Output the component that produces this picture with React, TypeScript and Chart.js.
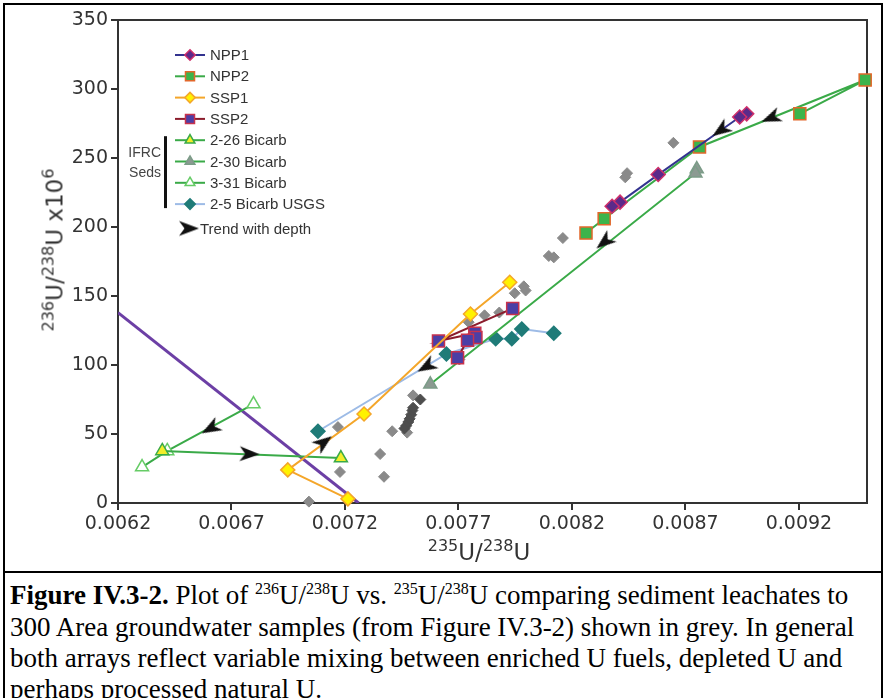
import React, { useEffect, useRef } from 'react';
import { Chart, registerables } from 'chart.js';
import { drawPoint } from 'chart.js/helpers';

Chart.register(...registerables);

// ---- axis ticks ----
const xTicks = [0.0062, 0.0067, 0.0072, 0.0077, 0.0082, 0.0087, 0.0092];
const yTicks = [0, 50, 100, 150, 200, 250, 300, 350];

// ---- series (x = 235U/238U, y = 236U/238U x10^6) ----
const npp1 = [
  { x: 0.00897, y: 282 }, { x: 0.008939, y: 279.7 }, { x: 0.00858, y: 238 },
  { x: 0.008412, y: 218 }, { x: 0.008377, y: 215 },
];
const npp2 = [
  { x: 0.008262, y: 195.6 }, { x: 0.008342, y: 206 }, { x: 0.008762, y: 258 },
  { x: 0.009492, y: 306.5 }, { x: 0.009204, y: 282 },
];
const ssp1 = [
  { x: 0.007213, y: 3 }, { x: 0.006948, y: 24 }, { x: 0.007284, y: 64.5 },
  { x: 0.007753, y: 137 }, { x: 0.007926, y: 160 },
];
const ssp2 = [
  { x: 0.007939, y: 141 }, { x: 0.007612, y: 117.4 }, { x: 0.007772, y: 123 },
  { x: 0.007777, y: 120 }, { x: 0.00774, y: 118 }, { x: 0.007696, y: 105.3 },
];
const bicarb226 = [{ x: 0.006395, y: 37.7 }, { x: 0.007182, y: 32.6 }];
const bicarb230 = [{ x: 0.00875, y: 242 }, { x: 0.008744, y: 239 }, { x: 0.007576, y: 86 }];
const bicarb331 = [{ x: 0.006797, y: 71.7 }, { x: 0.006417, y: 37.7 }, { x: 0.006306, y: 26 }];
const bicarbUSGS = [
  { x: 0.007081, y: 52 }, { x: 0.007647, y: 108 }, { x: 0.007864, y: 119 },
  { x: 0.007935, y: 119 }, { x: 0.007979, y: 126 }, { x: 0.00812, y: 123 },
];
const mixingLine = [{ x: 0.0062, y: 138 }, { x: 0.00726, y: 0 }];

const groundwaterLight = [
  { x: 0.007041, y: 1 }, { x: 0.007178, y: 22.5 }, { x: 0.007169, y: 55 },
  { x: 0.007355, y: 35.5 }, { x: 0.007372, y: 19 }, { x: 0.007408, y: 52 },
  { x: 0.007474, y: 51 }, { x: 0.0075, y: 78 }, { x: 0.007704, y: 104 },
  { x: 0.007745, y: 131 }, { x: 0.007815, y: 136 }, { x: 0.00788, y: 138 },
  { x: 0.007948, y: 152 }, { x: 0.007988, y: 157 }, { x: 0.007996, y: 154 },
  { x: 0.008098, y: 179 }, { x: 0.00812, y: 178 }, { x: 0.00816, y: 192 },
  { x: 0.008443, y: 239 }, { x: 0.008435, y: 236 }, { x: 0.008647, y: 261 },
];
const groundwaterDark = [
  { x: 0.007462, y: 54 }, { x: 0.00747, y: 56 }, { x: 0.007479, y: 58.7 },
  { x: 0.007485, y: 61 }, { x: 0.007492, y: 64 }, { x: 0.007497, y: 67 },
  { x: 0.0075, y: 69 }, { x: 0.007532, y: 75 },
];

// ---- "trend with depth" arrows: position and direction (deg, clockwise from +x) ----
const arrowPts = [
  { x: 0.008855, y: 270 }, { x: 0.009076, y: 279 }, { x: 0.008342, y: 189 },
  { x: 0.007558, y: 98.8 }, { x: 0.006607, y: 54 }, { x: 0.00678, y: 35.5 },
  { x: 0.007107, y: 44 },
];
const arrowAngles = [145, 158, 141, 150, 151, 2, -37];

const legendLabels = [
  'NPP1', 'NPP2', 'SSP1', 'SSP2', '2-26 Bicarb', '2-30 Bicarb', '3-31 Bicarb', '2-5 Bicarb USGS',
];

function makeArrow(): HTMLCanvasElement {
  const c = document.createElement('canvas');
  c.width = 22;
  c.height = 22;
  const g = c.getContext('2d')!;
  g.fillStyle = '#111';
  g.beginPath();
  g.moveTo(21, 11);
  g.lineTo(1, 3.5);
  g.lineTo(6.5, 11);
  g.lineTo(1, 18.5);
  g.closePath();
  g.fill();
  return c;
}

export default function App() {
  const ref = useRef<HTMLCanvasElement | null>(null);

  useEffect(() => {
    if (!ref.current) return;
    const arrow = makeArrow();
    const green = '#3aaa48';

    const series = (label: string, data: any[], line: string, style: string, fill: string, border: string, radius: number, order: number) => ({
      label, data, showLine: true, borderColor: line, borderWidth: 2,
      pointStyle: style, pointBackgroundColor: fill, pointBorderColor: border,
      pointBorderWidth: 1.5, pointRadius: radius, order, clip: false,
    });

    const datasets: any[] = [
      series(legendLabels[0], npp1, '#33338f', 'rectRot', '#5b2a8a', '#d0306a', 7, 1),
      series(legendLabels[1], npp2, green, 'rect', '#3cb44b', '#e2672a', 8.5, 2),
      series(legendLabels[2], ssp1, '#f4a62a', 'rectRot', '#fff200', '#f4a62a', 7, 3),
      series(legendLabels[3], ssp2, '#8b1c2c', 'rect', '#4b3fa6', '#c8324d', 8.5, 4),
      series(legendLabels[4], bicarb226, green, 'triangle', '#f2ee2a', green, 7.5, 5),
      series(legendLabels[5], bicarb230, green, 'triangle', '#8c9a92', '#7c9c88', 7.5, 6),
      series(legendLabels[6], bicarb331, green, 'triangle', '#ffffff', '#66cc66', 7.5, 7),
      series(legendLabels[7], bicarbUSGS, '#9dbbe6', 'rectRot', '#1f7b78', '#1f7b78', 7, 8),
      {
        label: 'arrows', data: arrowPts, showLine: false, pointStyle: arrow,
        pointRotation: arrowAngles, pointRadius: 10, order: 0, clip: false,
      },
      {
        label: 'mixing', data: mixingLine, showLine: true, borderColor: '#6c3fa5',
        borderWidth: 3, pointRadius: 0, order: 9,
      },
      {
        label: 'gw-dark', data: groundwaterDark, showLine: false, pointStyle: 'rectRot',
        pointBackgroundColor: '#4e4e4e', pointBorderColor: '#4e4e4e', pointRadius: 5.5, order: 10, clip: false,
      },
      {
        label: 'gw-light', data: groundwaterLight, showLine: false, pointStyle: 'rectRot',
        pointBackgroundColor: '#8a8a8a', pointBorderColor: '#8a8a8a', pointRadius: 5.5, order: 11, clip: false,
      },
    ];

    const legendPlugin = {
      id: 'customLegend',
      afterDatasetsDraw(chart: any) {
        const ctx = chart.ctx as CanvasRenderingContext2D;
        const a = chart.chartArea;
        const mx = a.left + 72;
        const y0 = a.top + 35;
        const dy = 21.3;
        ctx.save();
        legendLabels.forEach((name, i) => {
          const ds = chart.data.datasets[i];
          const y = y0 + i * dy;
          ctx.strokeStyle = ds.borderColor;
          ctx.lineWidth = 2;
          ctx.beginPath();
          ctx.moveTo(mx - 15, y);
          ctx.lineTo(mx + 15, y);
          ctx.stroke();
          ctx.fillStyle = ds.pointBackgroundColor;
          ctx.strokeStyle = ds.pointBorderColor;
          ctx.lineWidth = 1.5;
          drawPoint(ctx, { pointStyle: ds.pointStyle, rotation: 0, radius: ds.pointRadius * 0.75, borderWidth: 1.5 }, mx, y);
          ctx.fillStyle = '#333';
          ctx.font = '15px "Liberation Sans", Arial, sans-serif';
          ctx.textBaseline = 'middle';
          ctx.textAlign = 'left';
          ctx.fillText(name, mx + 20, y + 1);
        });
        const ty = y0 + legendLabels.length * dy + 3;
        drawPoint(ctx, { pointStyle: arrow, rotation: 0, radius: 10, borderWidth: 0 }, mx - 1, ty);
        ctx.fillStyle = '#333';
        ctx.fillText('Trend with depth', mx + 10, ty + 1);
        // IFRC Seds bracket
        ctx.fillStyle = '#111';
        ctx.fillRect(a.left + 46, y0 + 4 * dy - 4, 3, 3 * dy + 8);
        ctx.fillStyle = '#444';
        ctx.font = '14px "Liberation Sans", Arial, sans-serif';
        ctx.textAlign = 'right';
        ctx.fillText('IFRC', a.left + 43, y0 + 4.6 * dy);
        ctx.fillText('Seds', a.left + 43, y0 + 5.55 * dy);
        ctx.restore();
      },
    };

    const tickFont = { family: '"DejaVu Sans", Verdana, sans-serif', size: 19 };
    const chart = new Chart(ref.current, {
      type: 'scatter',
      data: { datasets },
      options: {
        animation: false,
        responsive: false,
        maintainAspectRatio: false,
        layout: { padding: { top: 20, right: 17, left: 0, bottom: 0 } },
        plugins: { legend: { display: false }, tooltip: { enabled: false } },
        scales: {
          x: {
            type: 'linear', min: 0.0062, max: 0.0095,
            afterBuildTicks: (s: any) => { s.ticks = xTicks.map((v) => ({ value: v })); },
            afterFit: (s: any) => { s.height = 69; },
            ticks: { callback: (v: any) => Number(v).toFixed(4), font: tickFont, color: '#333', padding: 3, maxRotation: 0, autoSkip: false },
            grid: { drawOnChartArea: false, drawTicks: true, tickLength: 7, color: '#333', lineWidth: 2 },
            border: { color: '#333', width: 2 },
          },
          y: {
            type: 'linear', min: 0, max: 350,
            afterBuildTicks: (s: any) => { s.ticks = yTicks.map((v) => ({ value: v })); },
            afterFit: (s: any) => { s.width = 118; },
            ticks: { font: tickFont, color: '#333', padding: 3, autoSkip: false },
            grid: { drawOnChartArea: false, drawTicks: true, tickLength: 7, color: '#333', lineWidth: 2 },
            border: { color: '#333', width: 2 },
          },
          x2: {
            type: 'linear', position: 'top', min: 0.0062, max: 0.0095,
            afterFit: (s: any) => { s.height = 0; },
            ticks: { display: false }, grid: { display: false },
            border: { color: '#333', width: 2 },
          },
          y2: {
            type: 'linear', position: 'right', min: 0, max: 350,
            afterFit: (s: any) => { s.width = 0; },
            ticks: { display: false }, grid: { display: false },
            border: { color: '#333', width: 2 },
          },
        },
      } as any,
      plugins: [legendPlugin],
    });
    return () => chart.destroy();
  }, []);

  const sup = (t: string, size: number, top: number) => (
    <span style={{ fontSize: size, position: 'relative', top }}>{t}</span>
  );
  const axisFont = '"DejaVu Sans", Verdana, sans-serif';
  const capFont = '"Liberation Serif", "Times New Roman", serif';
  const capLine = (top: number): React.CSSProperties => ({
    position: 'absolute', left: 10, top, fontFamily: capFont, fontSize: 27,
    lineHeight: '31px', whiteSpace: 'nowrap', color: '#000',
  });
  const capSup = (t: string) => <span style={{ fontSize: 16, position: 'relative', top: -10 }}>{t}</span>;

  return (
    <div style={{ position: 'absolute', left: 0, top: 0, width: 884, height: 698, overflow: 'hidden', background: '#fff' }}>
      <div style={{ position: 'absolute', left: 3, top: 3, width: 876, height: 760, border: '2px solid #000' }} />
      <div style={{ position: 'absolute', left: 3, top: 571, width: 880, height: 2, background: '#000' }} />
      <canvas ref={ref} width={884} height={572} style={{ position: 'absolute', left: 0, top: 0, width: 884, height: 572 }} />
      <div style={{
        position: 'absolute', left: 55, top: 250, transform: 'translate(-50%, -50%) rotate(-90deg)',
        whiteSpace: 'nowrap', fontFamily: axisFont, fontSize: 23, color: '#333', lineHeight: '1',
      }}>
        {sup('236', 16, -9)}U/{sup('238', 16, -9)}U x10{sup('6', 16, -9)}
      </div>
      <div style={{
        position: 'absolute', left: 479, top: 552, transform: 'translate(-50%, -50%)',
        whiteSpace: 'nowrap', fontFamily: axisFont, fontSize: 23, color: '#333', lineHeight: '1',
      }}>
        {sup('235', 16, -9)}U/{sup('238', 16, -9)}U
      </div>
      <div style={capLine(580)}>
        <b>Figure IV.3-2.</b> Plot of {capSup('236')}U/{capSup('238')}U vs. {capSup('235')}U/{capSup('238')}U comparing sediment leachates to
      </div>
      <div style={capLine(611.5)}>300 Area groundwater samples (from Figure IV.3-2) shown in grey. In general</div>
      <div style={capLine(643)}>both arrays reflect variable mixing between enriched U fuels, depleted U and</div>
      <div style={capLine(673.5)}>perhaps processed natural U.</div>
    </div>
  );
}
